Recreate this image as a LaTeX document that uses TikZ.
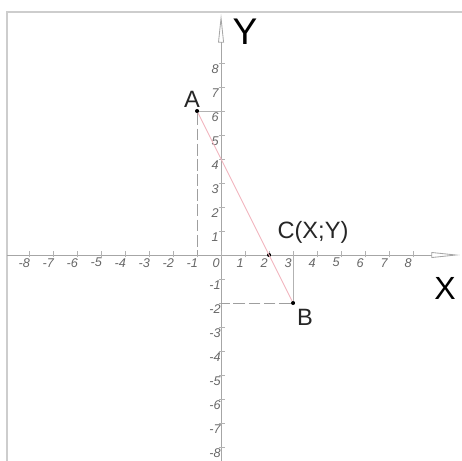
\documentclass[tikz,border=0pt]{standalone}
\usepackage{fontspec}
\setmainfont{Liberation Sans}
\usetikzlibrary{arrows.meta, positioning}
\definecolor{segpink}{RGB}{242,180,190}
\definecolor{framegray}{RGB}{205,205,205}

\begin{document}
\begin{tikzpicture}[
    x=0.5cm, y=0.5cm,
    axis/.style={draw=gray!70, line width=0.5pt, -{Triangle[open, length=6mm, width=1.2mm]}},
    frame/.style={draw=framegray, line width=0.8pt},
    tick/.style={draw=gray!60, line width=0.4pt},
    num/.style={text=gray!80!black, font=\fontsize{7.5}{8}\selectfont\itshape, inner sep=0pt},
    guide/.style={draw=gray!75, line width=0.4pt, dash pattern=on 7pt off 2pt},
    seg/.style={draw=segpink, line width=0.5pt},
    dot/.style={circle, fill=black, inner sep=0pt, minimum size=2.4pt},
    pname/.style={font=\fontsize{14}{16}\selectfont, text=black!85}
]
\useasboundingbox (-9.21,-8.58) rectangle (10.04,10.625);

% frame
\coordinate (ftl) at (-8.92,10.13);
\coordinate (ftr) at (10.04,10.13);
\coordinate (fbl) at (-8.92,-8.58);
\draw[frame] (fbl) -- (ftl) -- (ftr);

% axes
\coordinate (xl) at (-8.92,0);
\coordinate (xr) at (9.96,0);
\coordinate (yb) at (0,-8.58);
\coordinate (yt) at (0,10.05);
\draw[axis] (xl) -- (xr);
\draw[axis] (yb) -- (yt);

\foreach \k in {-8,...,8}{
    \draw[tick] (\k,-0.1) -- (\k,0.15);
    \node[num] (xt\k) at (\k-0.2,-0.32) {\k};
}
\foreach \k in {-8,...,-1,1,2,...,8}{
    \draw[tick] (-0.1,\k) -- (0.15,\k);
    \node[num] (yt\k) at (-0.25,\k-0.25) {\k};
}

\node[font=\fontsize{22}{24}\selectfont] (ylab) at (1.0,9.29) {Y};
\node[font=\fontsize{19}{21}\selectfont] (xlab) at (9.33,-1.375) {X};

% points
\node[dot] (A) at (-1,6) {};
\node[dot] (B) at (3,-2) {};
\node[dot] (C) at (2,0) {};
\coordinate (Ax) at (-1,0);
\coordinate (Ay) at (0,6);
\coordinate (Bx) at (3,0);
\coordinate (By) at (0,-2);

\draw[guide] (A) -- (Ax);
\draw[tick] (A) -- (Ay);
\draw[tick] (B) -- (Bx);
\draw[guide] (B) -- (By);
\draw[seg] (A) -- (B);

\node[pname] (Alab) at (-1.21,6.5) {A};
\node[pname] (Blab) at (3.5,-2.58) {B};
\node[pname] (Clab) at (3.83,0.96) {C(X;Y)};

\end{tikzpicture}
\end{document}
